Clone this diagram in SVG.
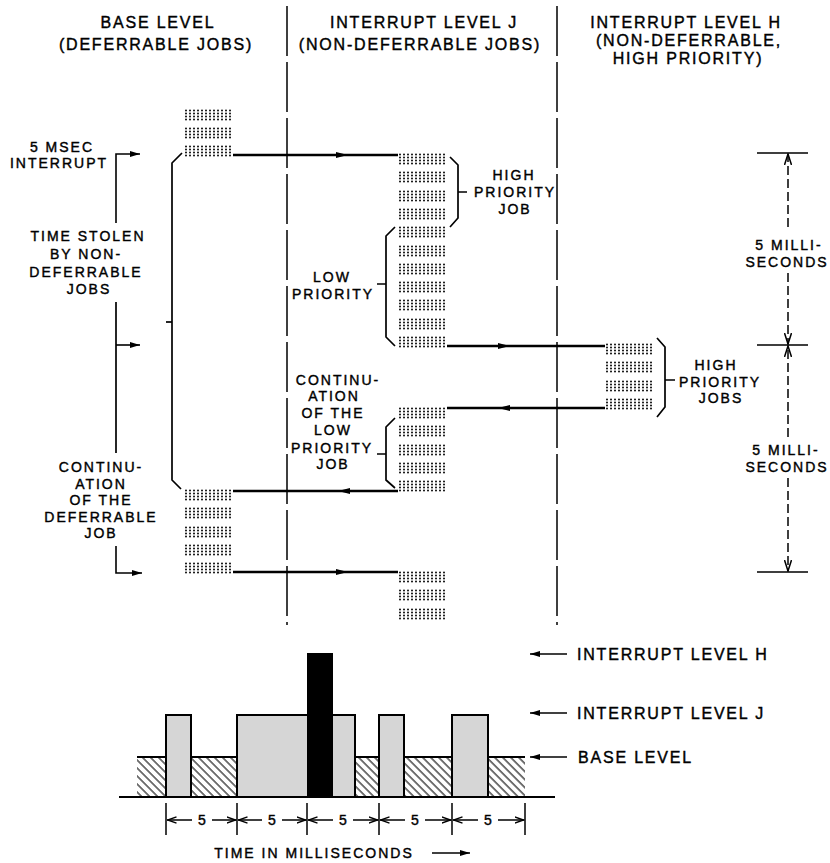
<svg xmlns="http://www.w3.org/2000/svg" width="830" height="863" viewBox="0 0 830 863">
<style>
text{font-family:"Liberation Sans",Arial,sans-serif;fill:#000;stroke:#000;stroke-width:0.4;text-anchor:middle}
.hd{font-size:16px;letter-spacing:1.8px}
.lb{font-size:14px;letter-spacing:2px}
.st{text-anchor:start}
.col{stroke:#000;stroke-width:1.5;stroke-dasharray:50 6;fill:none}
.flow{stroke:#000;stroke-width:2.4;fill:none;marker-mid:url(#ah)}
.thin{stroke:#000;stroke-width:1.7;fill:none}
.lbl{stroke:#000;stroke-width:1.6;fill:none;marker-end:url(#ahs)}
.dim{stroke:#000;stroke-width:1.5;fill:none;stroke-dasharray:9 4;marker-end:url(#av)}
.dimsolid{stroke:#000;stroke-width:1.5;fill:none}
.tick{stroke:#000;stroke-width:1.5;fill:none;marker-end:url(#avs)}
.jbar{fill:#d6d6d6;stroke:#000;stroke-width:2}
</style>
<defs>
<marker id="ah" viewBox="0 0 12 6" refX="12" refY="3" markerWidth="12" markerHeight="6" markerUnits="userSpaceOnUse" orient="auto"><path d="M0,0 L12,3 L0,6 z" fill="#000"/></marker>
<marker id="ahs" viewBox="0 0 10 6" refX="10" refY="3" markerWidth="10" markerHeight="6" markerUnits="userSpaceOnUse" orient="auto"><path d="M0,0 L10,3 L0,6 z" fill="#000"/></marker>
<marker id="av" viewBox="0 0 12 8" refX="11" refY="4" markerWidth="12" markerHeight="8" markerUnits="userSpaceOnUse" orient="auto"><path d="M0,0.5 L11,4 L0,7.5" fill="none" stroke="#000" stroke-width="1.5"/></marker>
<marker id="avs" viewBox="0 0 10 8" refX="9.5" refY="4" markerWidth="10" markerHeight="8" markerUnits="userSpaceOnUse" orient="auto"><path d="M0,0.8 L9,4 L0,7.2" fill="none" stroke="#000" stroke-width="1.4"/></marker>
<pattern id="dots" width="4" height="3" patternUnits="userSpaceOnUse"><circle cx="2" cy="1.5" r="0.95" fill="#000"/></pattern>
<pattern id="hatch" width="5.66" height="10" patternUnits="userSpaceOnUse" patternTransform="rotate(-45)"><line x1="1" y1="0" x2="1" y2="10" stroke="#000" stroke-width="1.1"/></pattern>
<g id="grp"><rect width="49" height="12" fill="url(#dots)"/></g>
</defs>
<rect width="830" height="863" fill="#fff"/>

<g id="headers">
<text class="hd" x="158" y="28">BASE LEVEL</text>
<text class="hd" x="156" y="50">(DEFERRABLE JOBS)</text>
<text class="hd" x="424" y="28">INTERRUPT LEVEL J</text>
<text class="hd" x="420" y="50">(NON-DEFERRABLE JOBS)</text>
<text class="hd" x="686" y="28">INTERRUPT LEVEL H</text>
<text class="hd" x="689" y="46">(NON-DEFERRABLE,</text>
<text class="hd" x="688" y="64">HIGH PRIORITY)</text>
</g>

<g id="columns">
<path class="col" d="M287,6 L287,625"/>
<path class="col" d="M557,6 L557,625"/>
</g>

<g id="base-block-1"><use href="#grp" x="184" y="109"/><use href="#grp" x="184" y="127"/><use href="#grp" x="184" y="145"/></g>
<g id="j-block-1">
<use href="#grp" x="398" y="153"/><use href="#grp" x="398" y="171"/><use href="#grp" x="398" y="190"/><use href="#grp" x="398" y="208"/><use href="#grp" x="398" y="226"/><use href="#grp" x="398" y="245"/><use href="#grp" x="398" y="263"/><use href="#grp" x="398" y="281"/><use href="#grp" x="398" y="299"/><use href="#grp" x="398" y="318"/><use href="#grp" x="398" y="336"/>
</g>
<g id="h-block"><use href="#grp" x="605" y="343"/><use href="#grp" x="605" y="361"/><use href="#grp" x="605" y="380"/><use href="#grp" x="605" y="398"/></g>
<g id="j-block-2"><use href="#grp" x="398" y="407"/><use href="#grp" x="398" y="425"/><use href="#grp" x="398" y="444"/><use href="#grp" x="398" y="462"/><use href="#grp" x="398" y="480"/></g>
<g id="base-block-2"><use href="#grp" x="184" y="489"/><use href="#grp" x="184" y="507"/><use href="#grp" x="184" y="526"/><use href="#grp" x="184" y="544"/><use href="#grp" x="184" y="562"/></g>
<g id="j-block-3"><use href="#grp" x="398" y="571"/><use href="#grp" x="398" y="589"/><use href="#grp" x="398" y="608"/></g>

<g id="connectors">
<path class="flow" d="M233,155 L348,155 L398,155"/>
<path class="flow" d="M447,346 L510,346 L605,346"/>
<path class="flow" d="M605,408 L498,408 L447,408"/>
<path class="flow" d="M398,491 L338,491 L233,491"/>
<path class="flow" d="M233,572 L348,572 L398,572"/>
<path class="thin" d="M182,153 L172,163 L172,480 L181,489"/>
<path class="thin" d="M166,322 L172,322"/>
</g>

<g id="left-labels">
<path class="lbl" d="M116,223 L116,154 L140,154"/>
<path class="thin" d="M116,302 L116,453"/>
<path class="lbl" d="M116,345 L140,345"/>
<path class="lbl" d="M116,546 L116,573 L142,573"/>
<text class="lb" x="62" y="152">5 MSEC</text>
<text class="lb" x="59" y="168">INTERRUPT</text>
<text class="lb" x="88" y="241">TIME STOLEN</text>
<text class="lb" x="86" y="259">BY NON-</text>
<text class="lb" x="86" y="277">DEFERRABLE</text>
<text class="lb" x="89" y="294">JOBS</text>
<text class="lb" x="101" y="472">CONTINU-</text>
<text class="lb" x="101" y="489">ATION</text>
<text class="lb" x="101" y="505">OF THE</text>
<text class="lb" x="101" y="522">DEFERRABLE</text>
<text class="lb" x="101" y="538">JOB</text>
</g>

<g id="j-labels">
<path class="thin" d="M450,157 L458,165 L458,218 L450,227 M458,192 L467,192"/>
<text class="lb" x="514" y="180">HIGH</text>
<text class="lb" x="515" y="197">PRIORITY</text>
<text class="lb" x="515" y="214">JOB</text>
<path class="thin" d="M395,227 L386,236 L386,337 L395,346 M377,284 L386,284"/>
<text class="lb" x="332" y="282">LOW</text>
<text class="lb" x="333" y="299">PRIORITY</text>
<path class="thin" d="M395,418 L386,427 L386,480 L395,488 M377,454 L386,454"/>
<text class="lb" x="338" y="385">CONTINU-</text>
<text class="lb" x="334" y="401">ATION</text>
<text class="lb" x="333" y="418">OF THE</text>
<text class="lb" x="333" y="435">LOW</text>
<text class="lb" x="332" y="453">PRIORITY</text>
<text class="lb" x="333" y="469">JOB</text>
</g>

<g id="h-labels">
<path class="thin" d="M657,338 L665,347 L665,407 L657,417 M665,380 L675,380"/>
<text class="lb" x="716" y="370">HIGH</text>
<text class="lb" x="720" y="387">PRIORITY</text>
<text class="lb" x="721" y="403">JOBS</text>
</g>

<g id="time-dimension">
<path class="dimsolid" d="M757,153 L808,153 M757,345 L808,345 M757,572 L808,572"/>
<path class="dim" d="M788,227 L788,154"/>
<path class="dim" d="M788,273 L788,344"/>
<path class="dim" d="M788,437 L788,346"/>
<path class="dim" d="M788,478 L788,571"/>
<text class="lb" x="789" y="250">5 MILLI-</text>
<text class="lb" x="787" y="267">SECONDS</text>
<text class="lb" x="786" y="455">5 MILLI-</text>
<text class="lb" x="787" y="472">SECONDS</text>
</g>

<g id="timeline">
<rect x="137" y="757" width="388" height="40" fill="url(#hatch)"/>
<path d="M137,757 L525,757" stroke="#000" stroke-width="2"/>
<rect class="jbar" x="166" y="715" width="25" height="82"/>
<rect class="jbar" x="237" y="715" width="118" height="82"/>
<rect class="jbar" x="379" y="715" width="25" height="82"/>
<rect class="jbar" x="452" y="715" width="36" height="82"/>
<rect x="307" y="653" width="26" height="144" fill="#000"/>
<path d="M119,797 L555,797" stroke="#000" stroke-width="2.2"/>
</g>

<g id="timeline-legend">
<path class="lbl" d="M567,654 L530,654"/>
<path class="lbl" d="M567,713 L530,713"/>
<path class="lbl" d="M567,757 L530,757"/>
<text class="hd st" x="577" y="660">INTERRUPT LEVEL H</text>
<text class="hd st" x="577" y="719">INTERRUPT LEVEL J</text>
<text class="hd st" x="578" y="763">BASE LEVEL</text>
</g>

<g id="ms-scale">
<path class="dimsolid" d="M166,803 L166,835 M237,803 L237,835 M307,803 L307,835 M379,803 L379,835 M452,803 L452,835 M525,803 L525,835"/>
<path class="tick" d="M192,820 L167,820"/><path class="tick" d="M212,820 L236,820"/>
<path class="tick" d="M262,820 L238,820"/><path class="tick" d="M282,820 L306,820"/>
<path class="tick" d="M333,820 L308,820"/><path class="tick" d="M353,820 L378,820"/>
<path class="tick" d="M405,820 L380,820"/><path class="tick" d="M425,820 L451,820"/>
<path class="tick" d="M478,820 L453,820"/><path class="tick" d="M498,820 L524,820"/>
<text class="lb" x="203" y="825">5</text>
<text class="lb" x="273" y="825">5</text>
<text class="lb" x="344" y="825">5</text>
<text class="lb" x="416" y="825">5</text>
<text class="lb" x="489" y="825">5</text>
<text class="lb" x="314" y="858">TIME IN MILLISECONDS</text>
<path class="lbl" d="M432,853 L470,853"/>
</g>
</svg>
